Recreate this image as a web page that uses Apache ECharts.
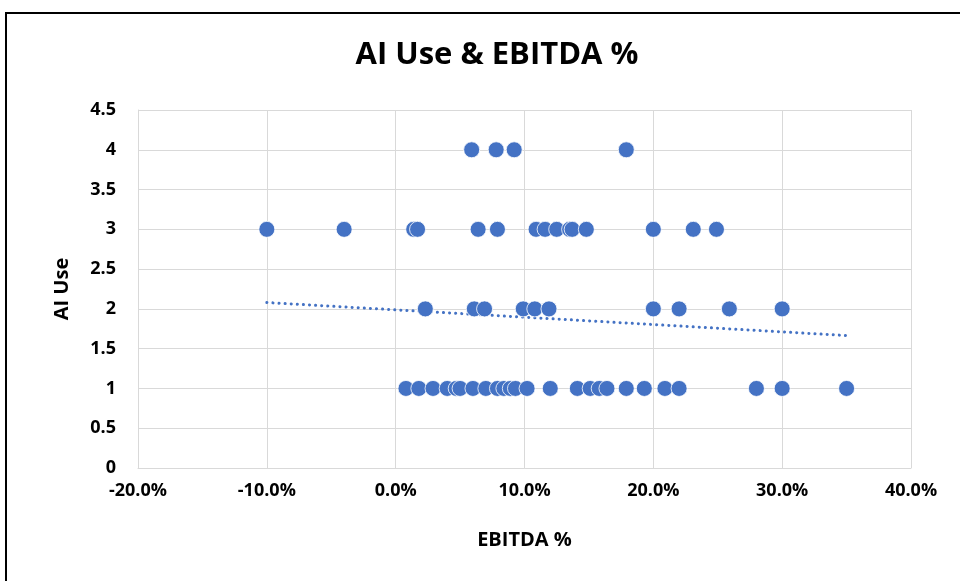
<!DOCTYPE html>
<html>
<head>
<meta charset="utf-8">
<title>AI Use & EBITDA %</title>
<script src="https://cdn.jsdelivr.net/npm/echarts@6/dist/echarts.min.js"></script>
<style>
html, body { margin: 0; padding: 0; background: #fff; overflow: hidden; }
#frame { position: absolute; left: 5px; top: 12px; width: 1000px; height: 700px; border: 2px solid #000; box-sizing: border-box; }
#chartMain { position: absolute; left: 0; top: 0; width: 960px; height: 581px; }
</style>
</head>
<body>
<div id="frame"></div>
<div id="chartMain"></div>
<script>
// EBITDA % values (x) for each AI Use level (y)
var aiUse1 = [0.8, 1.8, 2.9, 4.0, 4.7, 5.0, 6.0, 7.0, 7.9, 8.4, 8.9, 9.3, 10.2, 12.0, 14.1, 15.1, 15.8, 16.4, 17.9, 19.3, 20.9, 22.0, 28.0, 30.0, 35.0];
var aiUse2 = [2.3, 6.1, 6.9, 9.9, 10.8, 11.9, 20.0, 22.0, 25.9, 30.0];
var aiUse3 = [-10.0, -4.0, 1.4, 1.7, 6.4, 7.9, 10.9, 11.6, 12.5, 13.5, 13.7, 14.8, 20.0, 23.1, 24.9];
var aiUse4 = [5.9, 7.8, 9.2, 17.9];
// trendline end points [EBITDA %, AI Use]
var trendX = [-10.0, 35.0];
var trendY = [2.08, 1.665];

var xTicks = { min: -20, max: 40, interval: 10 };
var yTicks = { min: 0, max: 4.5, interval: 0.5 };

var myChart = echarts.init(document.getElementById('chartMain'));

function toPoints(xs, level) {
	return xs.map(function(x) { return [x, level]; });
}

var scatterData = []
	.concat(toPoints(aiUse1, 1))
	.concat(toPoints(aiUse2, 2))
	.concat(toPoints(aiUse3, 3))
	.concat(toPoints(aiUse4, 4));

var trendData = trendX.map(function(x, i) { return [x, trendY[i]]; });

var fontFam = '"Open Sans", "Noto Sans", sans-serif';

var option = {
	animation: false,
	title: {
		text: 'AI Use & EBITDA %',
		left: 492,
		top: 35,
		textAlign: 'center',
		textStyle: { fontFamily: fontFam, fontSize: 31, fontWeight: 'bold', color: '#000' }
	},
	grid: { left: 138, right: 49, top: 110, bottom: 113 },
	xAxis: {
		type: 'value',
		min: xTicks.min,
		max: xTicks.max,
		interval: xTicks.interval,
		name: 'EBITDA %',
		nameLocation: 'middle',
		nameGap: 62,
		nameTextStyle: { fontFamily: fontFam, fontSize: 20, fontWeight: 'bold', color: '#000' },
		axisLine: { show: true, onZero: false, lineStyle: { color: '#d9d9d9', width: 1 } },
		axisTick: { show: false },
		axisLabel: {
			margin: 14,
			fontFamily: fontFam, fontSize: 18, fontWeight: 'bold', color: '#000',
			formatter: function(v) { return v.toFixed(1) + '%'; }
		},
		splitLine: { show: true, lineStyle: { color: '#d9d9d9', width: 1 } }
	},
	yAxis: {
		type: 'value',
		min: yTicks.min,
		max: yTicks.max,
		interval: yTicks.interval,
		name: 'AI Use',
		nameLocation: 'middle',
		nameGap: 66,
		nameRotate: 90,
		nameTextStyle: { fontFamily: fontFam, fontSize: 20, fontWeight: 'bold', color: '#000' },
		axisLine: { show: true, onZero: false, lineStyle: { color: '#d9d9d9', width: 1 } },
		axisTick: { show: false },
		axisLabel: {
			margin: 22,
			fontFamily: fontFam, fontSize: 18, fontWeight: 'bold', color: '#000',
			formatter: function(v) { return String(v); }
		},
		splitLine: { show: true, lineStyle: { color: '#d9d9d9', width: 1 } }
	},
	series: [
		{
			type: 'line',
			data: trendData,
			symbol: 'none',
			silent: true,
			z: 1,
			lineStyle: { color: '#4472C4', width: 3, type: [0.1, 6], cap: 'round' }
		},
		{
			type: 'scatter',
			data: scatterData,
			symbolSize: 16,
			z: 2,
			itemStyle: { color: '#4472C4', borderColor: '#fff', borderWidth: 0.8, opacity: 1 }
		}
	]
};

myChart.setOption(option);
</script>
</body>
</html>
